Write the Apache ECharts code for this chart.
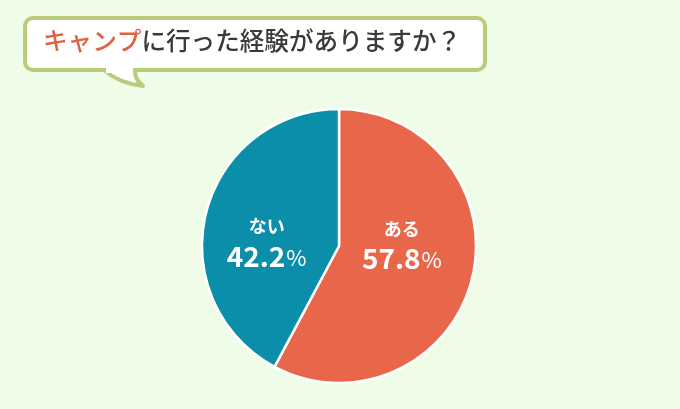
<!DOCTYPE html>
<html><head><meta charset="utf-8">
<script src="https://cdn.jsdelivr.net/npm/echarts@6/dist/echarts.min.js"></script>
<style>html,body{margin:0;padding:0;background:#effde8;}#c{width:680px;height:409px;}</style>
</head><body><div id="c"></div>
<script>
var categories = ['ある', 'ない'];
var values = [57.8, 42.2];
var sliceColors = ['#e8674a', '#0b8ea9'];
var titleHighlight = 'キャンプ';
var titleRest = 'に行った経験がありますか？';

var FONT = '"Noto Sans CJK JP", "Noto Sans", sans-serif';
var chart = echarts.init(document.getElementById('c'));
var labelShift = [[-6.5, -17.5], [-3, 14.5]];
chart.setOption({
  backgroundColor: '#effde8',
  animation: false,
  graphic: [
    {
      type: 'rect',
      shape: { x: 25, y: 18, width: 460, height: 52, r: 8 },
      style: { fill: '#ffffff', stroke: '#b9cc7b', lineWidth: 4 },
      z: 0
    },
    {
      type: 'polygon',
      shape: { points: [[104, 70], [112, 76], [122, 81], [132, 84], [143, 86], [138, 81], [135.5, 76], [135, 70]] },
      style: { fill: '#ffffff', stroke: '#b9cc7b', lineWidth: 4, lineJoin: 'round' },
      z: 1
    },
    {
      type: 'rect',
      shape: { x: 106, y: 66, width: 27, height: 7 },
      style: { fill: '#ffffff' },
      z: 2
    }
  ],
  title: {
    left: 38, top: 23,
    text: '{a|' + titleHighlight + '}{b|' + titleRest + '}',
    textStyle: {
      rich: {
        a: { color: '#e0603f', fontSize: 24.6, fontFamily: FONT, fontWeight: 500, lineHeight: 26 },
        b: { color: '#3a3a3a', fontSize: 24.6, fontFamily: FONT, fontWeight: 500, lineHeight: 26 }
      }
    },
    z: 5
  },
  series: [{
    type: 'pie',
    center: [339, 246],
    radius: 137,
    startAngle: 90,
    clockwise: true,
    data: categories.map(function (c, i) {
      return { name: c, value: values[i], itemStyle: { color: sliceColors[i] } };
    }),
    itemStyle: { borderColor: '#ffffff', borderWidth: 2.5 },
    label: {
      position: 'inside',
      formatter: function (p) { return '{n|' + p.name + '}\n{v|' + p.value.toFixed(1) + '}{p|%}'; },
      rich: {
        n: { color: '#fff', fontFamily: FONT, fontWeight: 'bold', fontSize: 18, lineHeight: 26, align: 'center' },
        v: { color: '#fff', fontFamily: FONT, fontWeight: 'bold', fontSize: 28, lineHeight: 34 },
        p: { color: '#fff', fontFamily: FONT, fontWeight: 'normal', fontSize: 22, lineHeight: 34, padding: [2, 0, 0, 1] }
      }
    },
    labelLine: { show: false },
    labelLayout: function (p) {
      var s = labelShift[p.dataIndex];
      return { dx: s[0], dy: s[1] };
    },
    emphasis: { disabled: true }
  }]
});
</script></body></html>
